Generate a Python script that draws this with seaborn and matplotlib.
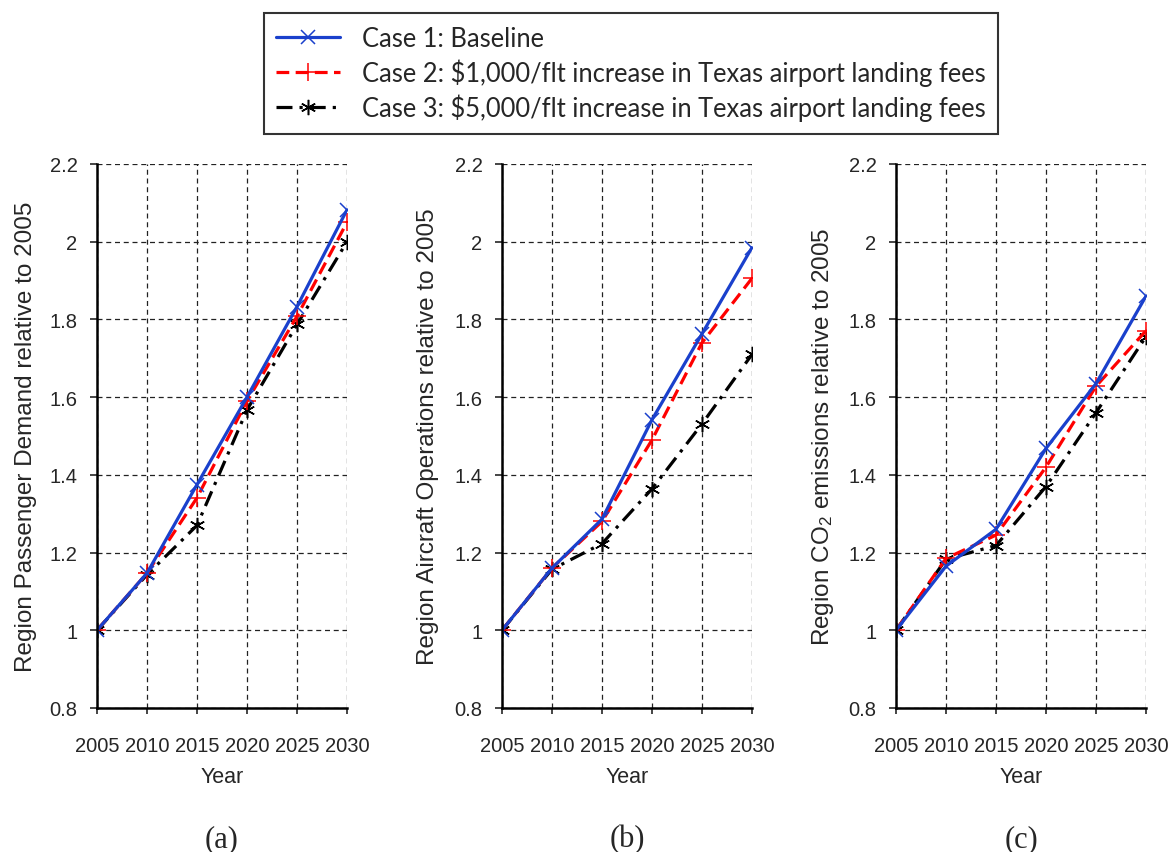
import matplotlib
matplotlib.use("Agg")
import matplotlib.pyplot as plt
import seaborn as sns
import numpy as np
from matplotlib.lines import Line2D
from matplotlib.legend_handler import HandlerLine2D

# ---------------- data ----------------
years = [2005, 2010, 2015, 2020, 2025, 2030]
case_labels = [
    "Case 1: Baseline",
    "Case 2: $1,000/flt increase in Texas airport landing fees",
    "Case 3: $5,000/flt increase in Texas airport landing fees",
]
# (a) passenger demand
pax_case1 = [1.0, 1.147, 1.375, 1.600, 1.833, 2.082]
pax_case2 = [1.0, 1.147, 1.341, 1.590, 1.808, 2.050]
pax_case3 = [1.0, 1.143, 1.270, 1.567, 1.787, 2.000]
# (b) aircraft operations
ops_case1 = [1.0, 1.160, 1.286, 1.542, 1.763, 1.985]
ops_case2 = [1.0, 1.160, 1.280, 1.490, 1.740, 1.906]
ops_case3 = [1.0, 1.157, 1.223, 1.364, 1.531, 1.710]
# (c) CO2 emissions
co2_case1 = [1.0, 1.165, 1.260, 1.468, 1.635, 1.860]
co2_case2 = [1.0, 1.185, 1.245, 1.420, 1.628, 1.771]
co2_case3 = [1.0, 1.183, 1.218, 1.370, 1.560, 1.756]

y_ticks = [0.8, 1.0, 1.2, 1.4, 1.6, 1.8, 2.0, 2.2]
y_tick_labels = ["0.8", "1", "1.2", "1.4", "1.6", "1.8", "2", "2.2"]
y_labels = [
    "Region Passenger Demand relative to 2005",
    "Region Aircraft Operations relative to 2005",
    "Region CO$_2$ emissions relative to 2005",
]
captions = ["(a)", "(b)", "(c)"]
x_label = "Year"

# ---------------- style ----------------
sns.set_style("ticks")
plt.rcParams["font.family"] = ["Liberation Sans", "DejaVu Sans"]
plt.rcParams["mathtext.default"] = "regular"

colors = ["#1a40cc", "#ff0000", "#000000"]
markers = ["x", "+", (6, 2, 0)]
msizes = [10, 13, 11]
linestyles = ["-", (0, (4, 2)), (0, (5, 2.2, 1, 2.2))]

fig = plt.figure(figsize=(11.69, 8.53), dpi=100)
W, H = 1169, 853
lefts = [97, 502, 896]
ax_w = 250
ax_top, ax_bot = 165, 709

panels = [
    (pax_case1, pax_case2, pax_case3),
    (ops_case1, ops_case2, ops_case3),
    (co2_case1, co2_case2, co2_case3),
]
ylabel_x = [37, 439, 836]

axes = []
for i, (left, series) in enumerate(zip(lefts, panels)):
    ax = fig.add_axes([left / W, 1 - ax_bot / H, ax_w / W, (ax_bot - ax_top) / H])
    axes.append(ax)
    for j, vals in enumerate(series):
        sns.lineplot(x=years, y=vals, ax=ax, color=colors[j], linewidth=2.3,
                     linestyle=linestyles[j], marker=markers[j], markersize=msizes[j],
                     markeredgewidth=1.1, markeredgecolor=colors[j],
                     label=case_labels[j], legend=False, zorder=3 + (2 - j))
    ax.set_xlim(2005, 2030)
    ax.set_ylim(0.8, 2.2)
    ax.set_xticks(years)
    ax.set_xticklabels([str(y) for y in years])
    ax.set_yticks(y_ticks)
    ax.set_yticklabels(y_tick_labels)
    ax.grid(True, color="#222222", linestyle=(0, (4, 3)), linewidth=0.9)
    ax.set_axisbelow(True)
    for s in ["top", "right"]:
        ax.spines[s].set_visible(False)
    for s in ["left", "bottom"]:
        ax.spines[s].set_linewidth(1.8)
        ax.spines[s].set_color("black")
        ax.spines[s].set_zorder(10)
    ax.tick_params(axis="x", direction="out", length=4, width=1.2, pad=16, labelsize=14.5)
    ax.tick_params(axis="y", direction="out", length=5, width=1.2, pad=9, labelsize=14.5)
    ax.set_ylabel(y_labels[i], fontsize=17.5)
    ax.yaxis.set_label_coords((ylabel_x[i] - left) / ax_w, 0.5)
    ax.set_xlabel("")
    ax.text(0.5, (ax_bot - 778) / (ax_bot - ax_top), x_label, transform=ax.transAxes,
            ha="center", va="center", fontsize=15.5)
    ax.text(0.5, (ax_bot - 840) / (ax_bot - ax_top), captions[i], transform=ax.transAxes,
            ha="center", va="center", fontsize=22, family="Liberation Serif")


class LeftMarkerHandler(HandlerLine2D):
    def get_xdata(self, legend, xdescent, ydescent, width, height, fontsize):
        xdata = np.array([-xdescent, -xdescent + width], dtype=float)
        xmark = np.array([-xdescent + 0.08 * width], dtype=float)
        return xdata, xmark


handles, labels = axes[0].get_legend_handles_labels()
leg = fig.legend(handles, labels, loc="upper center", bbox_to_anchor=(631 / W, 1 - 14 / H),
                 ncol=1, frameon=True, fancybox=False, edgecolor="black",
                 prop={"family": "Lato", "size": 18.4}, handlelength=2.5,
                 handletextpad=0.85, borderpad=0.5, labelspacing=0.3,
                 borderaxespad=0, handler_map={Line2D: LeftMarkerHandler()})
leg.get_frame().set_linewidth(1.5)

fig.savefig("out.png", dpi=100)
